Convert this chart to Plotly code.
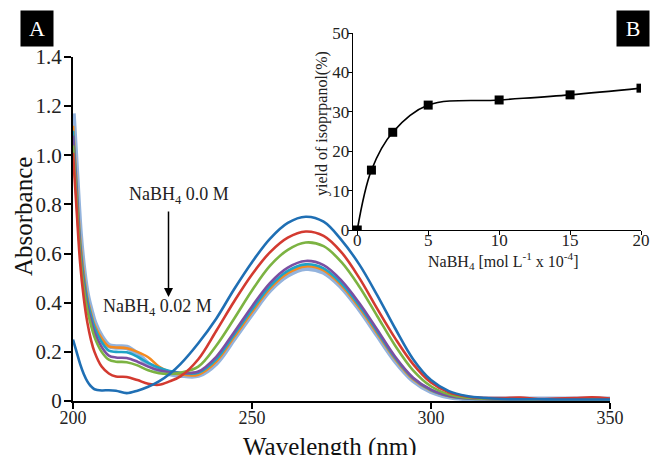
import plotly.graph_objects as go

# ---------------- data ----------------
wavelength = [200, 201, 202, 203, 204, 205, 206, 208, 210, 212, 215, 218, 221, 224, 227, 230,
              235, 240, 245, 250, 255, 260, 265, 270, 275, 280, 285, 290, 295, 300, 305, 310,
              315, 320, 325, 330, 335, 340, 345, 350]

abs_blue = [0.25, 0.20, 0.15, 0.11, 0.08, 0.06, 0.048, 0.043, 0.044, 0.042, 0.032, 0.042, 0.058, 0.08, 0.11, 0.15,
            0.235, 0.335, 0.455, 0.565, 0.66, 0.725, 0.75, 0.73, 0.655, 0.555, 0.43, 0.295, 0.17, 0.085, 0.04, 0.02,
            0.012, 0.008, 0.007, 0.007, 0.006, 0.006, 0.006, 0.006]
abs_red = [1.01, 0.78, 0.56, 0.42, 0.32, 0.25, 0.20, 0.14, 0.112, 0.10, 0.098, 0.085, 0.07, 0.066, 0.08, 0.10,
           0.17, 0.285, 0.405, 0.515, 0.605, 0.665, 0.69, 0.672, 0.605, 0.50, 0.375, 0.255, 0.15, 0.075, 0.035, 0.018,
           0.012, 0.012, 0.014, 0.008, 0.010, 0.012, 0.015, 0.010]
abs_green = [1.04, 0.82, 0.60, 0.46, 0.37, 0.31, 0.26, 0.20, 0.168, 0.16, 0.158, 0.145, 0.125, 0.113, 0.11, 0.115,
             0.14, 0.225, 0.335, 0.45, 0.55, 0.615, 0.645, 0.63, 0.565, 0.465, 0.345, 0.225, 0.125, 0.06, 0.027, 0.013,
             0.009, 0.008, 0.008, 0.007, 0.007, 0.007, 0.007, 0.007]
abs_purple = [1.08, 0.85, 0.62, 0.48, 0.39, 0.33, 0.28, 0.22, 0.185, 0.177, 0.175, 0.16, 0.14, 0.125, 0.117, 0.114,
              0.12, 0.18, 0.28, 0.385, 0.48, 0.543, 0.57, 0.553, 0.49, 0.398, 0.29, 0.18, 0.095, 0.046, 0.021, 0.011,
              0.008, 0.007, 0.007, 0.007, 0.007, 0.007, 0.007, 0.007]
abs_cyan = [1.10, 0.87, 0.64, 0.50, 0.41, 0.35, 0.30, 0.24, 0.205, 0.20, 0.198, 0.18, 0.155, 0.135, 0.122, 0.115,
            0.115, 0.17, 0.27, 0.372, 0.467, 0.53, 0.556, 0.54, 0.478, 0.388, 0.282, 0.175, 0.092, 0.044, 0.02, 0.01,
            0.008, 0.007, 0.007, 0.007, 0.007, 0.007, 0.007, 0.007]
abs_orange = [1.12, 0.89, 0.66, 0.52, 0.42, 0.36, 0.31, 0.255, 0.222, 0.218, 0.215, 0.20, 0.178, 0.14, 0.118, 0.108,
              0.107, 0.16, 0.26, 0.362, 0.457, 0.52, 0.548, 0.532, 0.47, 0.38, 0.275, 0.17, 0.088, 0.042, 0.019, 0.01,
              0.008, 0.007, 0.007, 0.007, 0.007, 0.007, 0.007, 0.007]
abs_lightblue = [1.17, 0.92, 0.68, 0.53, 0.43, 0.37, 0.32, 0.26, 0.225, 0.22, 0.218, 0.19, 0.15, 0.125, 0.112, 0.106,
                 0.105, 0.155, 0.255, 0.357, 0.452, 0.513, 0.54, 0.525, 0.465, 0.375, 0.27, 0.165, 0.085, 0.04, 0.018, 0.01,
                 0.008, 0.007, 0.007, 0.007, 0.007, 0.007, 0.007, 0.007]

main_x_ticks = [200, 250, 300, 350]
main_y_ticks = [0, 0.2, 0.4, 0.6, 0.8, 1.0, 1.2, 1.4]
main_y_ticktext = ["0", "0.2", "0.4", "0.6", "0.8", "1.0", "1.2", "1.4"]

nabh4_conc = [0, 1, 2.5, 5, 10, 15, 20]
yield_pct = [0, 15.2, 24.8, 31.7, 33.0, 34.3, 36.0]
inset_x_ticks = [0, 5, 10, 15, 20]
inset_y_ticks = [0, 10, 20, 30, 40, 50]

# ---------------- figure ----------------
W, H = 653, 455
SERIF = "Liberation Serif, Times New Roman, serif"
fig = go.Figure()

series = [
    (abs_lightblue, "#93b3dd", 5.5),
    (abs_orange, "#f58a1f", 2.6),
    (abs_cyan, "#1ea3c6", 2.6),
    (abs_purple, "#7b4fa2", 2.6),
    (abs_green, "#7cb342", 2.6),
    (abs_red, "#d33a30", 2.6),
    (abs_blue, "#1f6fb4", 2.6),
]
for vals, col, w in series:
    fig.add_trace(go.Scatter(x=wavelength, y=vals, mode="lines",
                             line=dict(color=col, width=w, shape="spline", smoothing=1),
                             xaxis="x", yaxis="y", showlegend=False, hoverinfo="skip"))

fig.add_trace(go.Scatter(x=nabh4_conc, y=yield_pct, mode="lines+markers",
                         line=dict(color="black", width=1.6, shape="spline", smoothing=1),
                         marker=dict(symbol="square", size=9, color="black"),
                         xaxis="x2", yaxis="y2", showlegend=False, hoverinfo="skip"))

def px_x(p):
    return p / W

def px_y(p):
    return 1 - p / H

fig.update_layout(
    width=W, height=H,
    margin=dict(l=0, r=0, t=0, b=0, pad=0, autoexpand=False),
    paper_bgcolor="white", plot_bgcolor="rgba(0,0,0,0)",
    font=dict(family=SERIF, color="#222222"),
    hovermode=False,
    xaxis=dict(domain=[px_x(73), px_x(610)], range=[200, 350], tickvals=main_x_ticks,
               showline=True, linecolor="black", linewidth=2, ticks="outside", ticklen=6,
               tickwidth=2, tickcolor="black", showgrid=False, zeroline=False,
               ticklabelstandoff=-7, ticklabeloverflow="allow",
               tickfont=dict(family=SERIF, size=18, color="#222222")),
    yaxis=dict(domain=[px_y(401), px_y(57)], range=[0, 1.4], tickvals=main_y_ticks,
               ticktext=main_y_ticktext,
               showline=True, linecolor="black", linewidth=2, ticks="outside", ticklen=7,
               tickwidth=2, tickcolor="black", showgrid=False, zeroline=False,
               ticklabelstandoff=-2, ticklabeloverflow="allow",
               tickfont=dict(family=SERIF, size=21, color="#222222")),
    xaxis2=dict(domain=[px_x(353), px_x(641)], range=[-0.3, 20], tickvals=inset_x_ticks,
                anchor="y2", showline=True, linecolor="black", linewidth=1.3, ticks="outside",
                ticklen=4, tickcolor="black", showgrid=False, zeroline=False,
                ticklabelstandoff=-10, ticklabeloverflow="allow",
                tickfont=dict(family=SERIF, size=17, color="#222222")),
    yaxis2=dict(domain=[px_y(230), px_y(33)], range=[0, 50], tickvals=inset_y_ticks,
                anchor="x2", showline=True, linecolor="black", linewidth=1.3, ticks="outside",
                ticklen=4, tickcolor="black", showgrid=False, zeroline=False,
                ticklabelstandoff=-5, ticklabeloverflow="allow",
                tickfont=dict(family=SERIF, size=17, color="#222222")),
)

ann = []
ann.append(dict(text="Wavelength (nm)", x=px_x(330), y=px_y(447), xref="paper", yref="paper",
                showarrow=False, xanchor="center", yanchor="middle",
                font=dict(family=SERIF, size=25, color="#111111")))
ann.append(dict(text="Absorbance", x=px_x(23), y=px_y(217), xref="paper", yref="paper",
                showarrow=False, xanchor="center", yanchor="middle", textangle=-90,
                font=dict(family=SERIF, size=25, color="#111111")))
ann.append(dict(text="yield of isoprpanol(%)", x=px_x(322), y=px_y(124), xref="paper", yref="paper",
                showarrow=False, xanchor="center", yanchor="middle", textangle=-90,
                font=dict(family=SERIF, size=16, color="#222222")))
ann.append(dict(text="NaBH<sub>4</sub> [mol L<sup>-1</sup> x 10<sup>-4</sup>]", x=px_x(503), y=px_y(261),
                xref="paper", yref="paper", showarrow=False, xanchor="center", yanchor="middle",
                font=dict(family=SERIF, size=16, color="#222222")))
ann.append(dict(text="NaBH<sub>4</sub> 0.0 M", x=px_x(179), y=px_y(195), xref="paper", yref="paper",
                showarrow=False, xanchor="center", yanchor="middle",
                font=dict(family=SERIF, size=18, color="#222222")))
ann.append(dict(text="NaBH<sub>4</sub> 0.02 M", x=px_x(157), y=px_y(307), xref="paper", yref="paper",
                showarrow=False, xanchor="center", yanchor="middle",
                font=dict(family=SERIF, size=18, color="#222222")))
ann.append(dict(text="", x=px_x(168.5), y=px_y(297), xref="paper", yref="paper",
                ax=0, ay=-87, showarrow=True, arrowhead=2, arrowsize=1.2, arrowwidth=1.5,
                arrowcolor="black"))
ann.append(dict(text="A", x=px_x(36.7), y=px_y(28), xref="paper", yref="paper", showarrow=False,
                xanchor="center", yanchor="middle", width=30, height=33, bgcolor="black",
                font=dict(family=SERIF, size=22, color="white")))
ann.append(dict(text="B", x=px_x(633), y=px_y(28.3), xref="paper", yref="paper", showarrow=False,
                xanchor="center", yanchor="middle", width=30, height=33, bgcolor="black",
                font=dict(family=SERIF, size=22, color="white")))
fig.update_layout(annotations=ann)

fig.write_html("out.html",
               config={"displayModeBar": False, "staticPlot": True},
               post_script="document.body.style.margin='0';document.body.style.overflow='hidden';")
